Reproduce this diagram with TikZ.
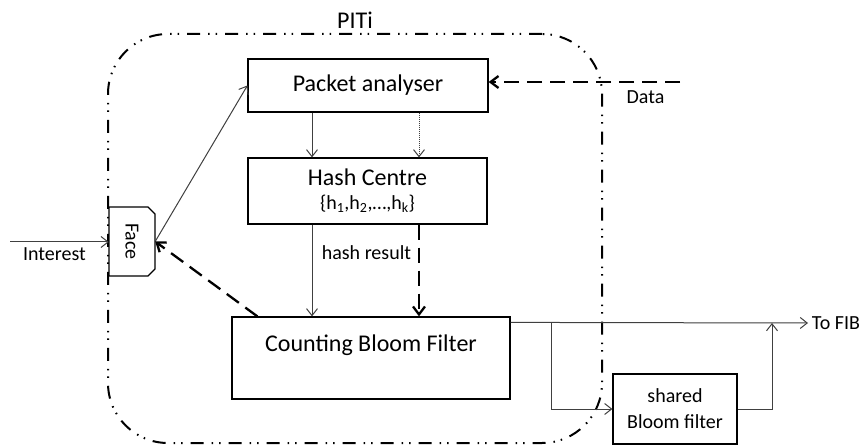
\documentclass[tikz,border=0pt]{standalone}
\usepackage{fontspec}
\setmainfont{Carlito}
\usepackage{tikz}
\usetikzlibrary{arrows.meta,positioning}
\newcommand{\pitlarge}{\fontsize{24}{28}\selectfont}
\newcommand{\pitsmall}{\fontsize{20}{26}\selectfont}
\begin{document}
\begin{tikzpicture}[
			x = 1pt, y = -1pt,
			every node/.style = {font=\pitsmall},
			box/.style = {draw, line width=1.2pt, inner sep=0pt, font=\pitlarge},
			thin/.style = {line width=1pt, black!75, -{Straight Barb[length=7pt,width=11pt]}},
			bold/.style = {line width=2.3pt, dash pattern=on 15pt off 8pt, -{Straight Barb[length=8pt,width=12pt]}},
			frame/.style = {draw, line width=2pt, rounded corners=60pt, dash pattern=on 13pt off 8pt on 1.5pt off 6pt on 1.5pt off 8pt}
			]

			\path[use as bounding box, fill=white] (0,0) rectangle (864,446);

			\node[frame, minimum width=494, minimum height=409, label={[font=\pitlarge, label distance=1pt]above:PITi}] (piti) at (355,238.5) {};

			\node[box, minimum width=240, minimum height=53] (pa) at (368,85.5) {Packet analyser};
			\node[box, minimum width=239, minimum height=66, align=center] (hc) at (367.5,191) {Hash Centre\\[-4pt]{\pitsmall\{h\textsubscript{1},h\textsubscript{2},\dots,h\textsubscript{k}\}}};
			\node[box, minimum width=278, minimum height=82, text height=17pt, text depth=31pt] (cbf) at (371,358) {Counting Bloom Filter};
			\node[box, minimum width=124, minimum height=70, align=center, font=\pitsmall] (sbf) at (675,409) {shared\\Bloom filter};

			% face: box with cut corners on the right
			\draw[line width=1.2pt, fill=white] (109,207) -- (148,207) -- (155,214) -- (155,269) -- (148,276) -- (109,276) -- cycle;
			\node[minimum width=69, minimum height=46, inner sep=0pt, rotate=-90] (face) at (132,241.5) {Face};

			\coordinate (int) at (10,242);
			\coordinate (data) at (680,82);
			\coordinate (fib) at (808,323);
			\coordinate (split) at (551,323);
			\coordinate (join) at (772,323);

			\draw[thin] (int) -- (int -| face.south) node[pos=0.45, below=2pt, black] {Interest};
			\draw[thin] (face.north) -- (pa.west);
			\draw[bold] ([xshift=26pt]cbf.north west) -- (face.north);
			\draw[bold] (data) -- (pa.east |- data) node[pos=0.18, below=4pt] {Data};

			\draw[thin] ([xshift=-56pt]pa.south) -- ([xshift=-56pt]pa.south |- hc.north);
			\draw[thin, densely dotted] ([xshift=51pt]pa.south) -- ([xshift=51pt]pa.south |- hc.north);
			\draw[thin] ([xshift=-55.5pt]hc.south) -- ([xshift=-55.5pt]hc.south |- cbf.north) node[pos=0.31, right=6pt, black] {hash result};
			\draw[bold] ([xshift=51.5pt]hc.south) -- ([xshift=51.5pt]hc.south |- cbf.north);

			\draw[thin] ([yshift=-6pt]cbf.north east) -- (fib) node[right, black] {To FIB};
			\draw[thin] (split) |- (sbf.west);
			\draw[thin] (sbf.east) -| (join);

		\end{tikzpicture}
\end{document}
